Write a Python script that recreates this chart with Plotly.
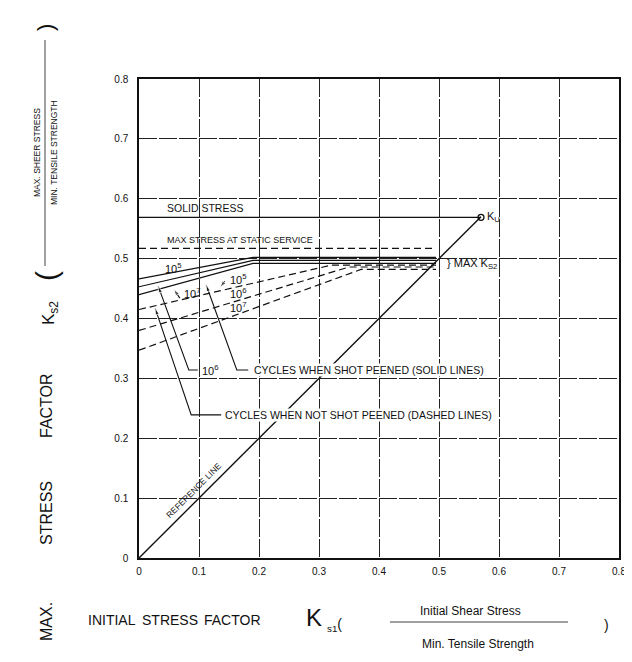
import plotly.graph_objects as go

# ---------------- data ----------------
x_ticks = [0, 0.1, 0.2, 0.3, 0.4, 0.5, 0.6, 0.7, 0.8]
x_tick_labels = ["0", "0.1", "0.2", "0.3", "0.4", "0.5", "0.6", "0.7", "0.8"]
y_ticks = [0, 0.1, 0.2, 0.3, 0.4, 0.5, 0.6, 0.7, 0.8]
y_tick_labels = ["0", "0.1", "0.2", "0.3", "0.4", "0.5", "0.6", "0.7", "0.8"]

solid_stress_x = [0, 0.57]
solid_stress_y = [0.569, 0.569]
static_service_x = [0, 0.495]
static_service_y = [0.517, 0.517]

reference_x = [0, 0.57]
reference_y = [0, 0.57]
ku_x = [0.57]
ku_y = [0.569]

peened_x = [0, 0.19, 0.495]
peened_1e5 = [0.466, 0.502, 0.502]
peened_1e6 = [0.453, 0.497, 0.497]
peened_1e7 = [0.440, 0.492, 0.492]

unpeened_1e5_x = [0, 0.32, 0.495]
unpeened_1e5_y = [0.415, 0.489, 0.489]
unpeened_1e6_x = [0, 0.35, 0.495]
unpeened_1e6_y = [0.380, 0.486, 0.486]
unpeened_1e7_x = [0, 0.37, 0.495]
unpeened_1e7_y = [0.347, 0.482, 0.482]

# leader lines (text -> arrow tip)
lead_not_peened_x = [0.137, 0.087, 0.027]
lead_not_peened_y = [0.239, 0.239, 0.417]
lead_1e6_x = [0.098, 0.083, 0.032]
lead_1e6_y = [0.314, 0.314, 0.454]
lead_peened_x = [0.182, 0.163, 0.112]
lead_peened_y = [0.314, 0.314, 0.456]
lead_small_1e7_x = [0.068, 0.058]
lead_small_1e7_y = [0.434, 0.449]
lead_small_1e5_x = [0.143, 0.135]
lead_small_1e5_y = [0.462, 0.452]

# ---------------- figure ----------------
W, H = 632, 662
L, R, T, B = 131, 21, 71, 112
fig = go.Figure()

black = "#111111"
FONT = "Liberation Sans, Arial, sans-serif"

def line(x, y, dash="solid", width=1.3):
    fig.add_trace(go.Scatter(x=x, y=y, mode="lines", hoverinfo="skip",
                             line=dict(color=black, width=width, dash=dash),
                             showlegend=False))

line(solid_stress_x, solid_stress_y, width=1.2)
line(static_service_x, static_service_y, dash="7px,4px", width=1.2)
line(reference_x, reference_y, width=1.4)
for yy in (peened_1e5, peened_1e6, peened_1e7):
    line(peened_x, yy, width=1.2)
line(unpeened_1e5_x, unpeened_1e5_y, dash="7px,4px", width=1.2)
line(unpeened_1e6_x, unpeened_1e6_y, dash="7px,4px", width=1.2)
line(unpeened_1e7_x, unpeened_1e7_y, dash="7px,4px", width=1.2)

fig.add_trace(go.Scatter(x=ku_x, y=ku_y, mode="markers", hoverinfo="skip",
                         marker=dict(symbol="circle-open", size=6, color=black,
                                     line=dict(width=1.3)),
                         showlegend=False))

def leader(x, y):
    n = len(x)
    fig.add_trace(go.Scatter(x=x, y=y, mode="lines+markers", hoverinfo="skip",
                             line=dict(color=black, width=1.1),
                             marker=dict(symbol="arrow", angleref="previous",
                                         size=[0] * (n - 1) + [7], color=black),
                             showlegend=False))

leader(lead_not_peened_x, lead_not_peened_y)
leader(lead_1e6_x, lead_1e6_y)
leader(lead_peened_x, lead_peened_y)
leader(lead_small_1e7_x, lead_small_1e7_y)
leader(lead_small_1e5_x, lead_small_1e5_y)

def txt(x, y, s, size=9, xanchor="left", angle=0, ref="data", bg=None):
    fig.add_annotation(x=x, y=y, text=s, showarrow=False, xanchor=xanchor,
                       yanchor="middle", textangle=angle,
                       xref="x" if ref == "data" else "paper",
                       yref="y" if ref == "data" else "paper",
                       bgcolor=bg, borderpad=0,
                       font=dict(size=size, color=black, family=FONT))

txt(0.045, 0.584, "SOLID STRESS", 10.5)
txt(0.045, 0.531, "MAX STRESS AT STATIC SERVICE", 9)
txt(0.058, 0.485, "10<sup>5</sup>", 11, "center")
txt(0.073, 0.442, "10<sup>7</sup>", 11)
txt(0.165, 0.466, "10<sup>5</sup>", 11, "center")
txt(0.165, 0.442, "10<sup>6</sup>", 11, "center")
txt(0.165, 0.419, "10<sup>7</sup>", 11, "center")
txt(0.103, 0.314, "10<sup>6</sup>", 11)
txt(0.190, 0.314, "CYCLES WHEN SHOT PEENED (SOLID LINES)", 10.5, bg="white")
txt(0.142, 0.239, "CYCLES WHEN NOT SHOT PEENED (DASHED LINES)", 10.5, bg="white")
txt(0.092, 0.113, "REFERENCE LINE", 8.5, "center", angle=-45)
txt(0.511, 0.491, "} MAX K<sub>S2</sub>", 11)
txt(0.578, 0.569, "K<sub>U</sub>", 11)

# ---- axis titles (pixel helpers) ----
def px(xp, yp):
    return (xp - L) / (W - L - R), (H - B - yp) / (H - T - B)

def ptxt(xp, yp, s, size, angle=0, xanchor="center"):
    xx, yy = px(xp, yp)
    txt(xx, yy, s, size, xanchor, angle, ref="paper")

# y title
ptxt(38, 614, "MAX.", 16, -90)
ptxt(38, 505, "STRESS", 16, -90)
ptxt(38, 398, "FACTOR", 16, -90)
ptxt(42, 305, "K<sub>s2</sub>", 17, -90)
ptxt(38, 268, "(", 30, -90)
ptxt(29, 145, "MAX. SHEER STRESS", 8.5, -90)
ptxt(46, 145, "MIN. TENSILE STRENGTH", 8.5, -90)
ptxt(38, 20, ")", 22, -90)
x0, y0 = px(37, 258)
x1, y1 = px(37, 32)
fig.add_shape(type="line", xref="paper", yref="paper", x0=x0, y0=y0, x1=x1, y1=y1,
              line=dict(color=black, width=0.8))

# x title
ptxt(104, 612, "INITIAL", 14)
ptxt(162, 612, "STRESS", 14)
ptxt(224, 612, "FACTOR", 14)
ptxt(306, 609, "K", 24)
ptxt(326, 617, "<sub>s1</sub>(", 14)
ptxt(462, 603, "Initial Shear Stress", 12)
ptxt(470, 636, "Min. Tensile Strength", 12)
ptxt(598, 617, ")", 14)
x0, y0 = px(382, 614)
x1, y1 = px(560, 614)
fig.add_shape(type="line", xref="paper", yref="paper", x0=x0, y0=y0, x1=x1, y1=y1,
              line=dict(color=black, width=0.8))

axis_common = dict(range=[0, 0.8], showline=True, mirror=True, linecolor=black,
                   linewidth=1.5, showgrid=True, gridcolor="#222222", gridwidth=1,
                   griddash="18px,2px", zeroline=False, ticks="",
                   tickfont=dict(size=10, color=black, family=FONT))

fig.update_xaxes(tickvals=x_ticks, ticktext=x_tick_labels, ticklabelstandoff=3,
                 **axis_common)
fig.update_yaxes(tickvals=y_ticks, ticktext=y_tick_labels, ticklabelstandoff=7,
                 **axis_common)

fig.update_layout(width=W, height=H, margin=dict(l=L, r=R, t=T, b=B),
                  paper_bgcolor="white", plot_bgcolor="white",
                  font=dict(family=FONT, color=black))

fig.write_html("out.html")
